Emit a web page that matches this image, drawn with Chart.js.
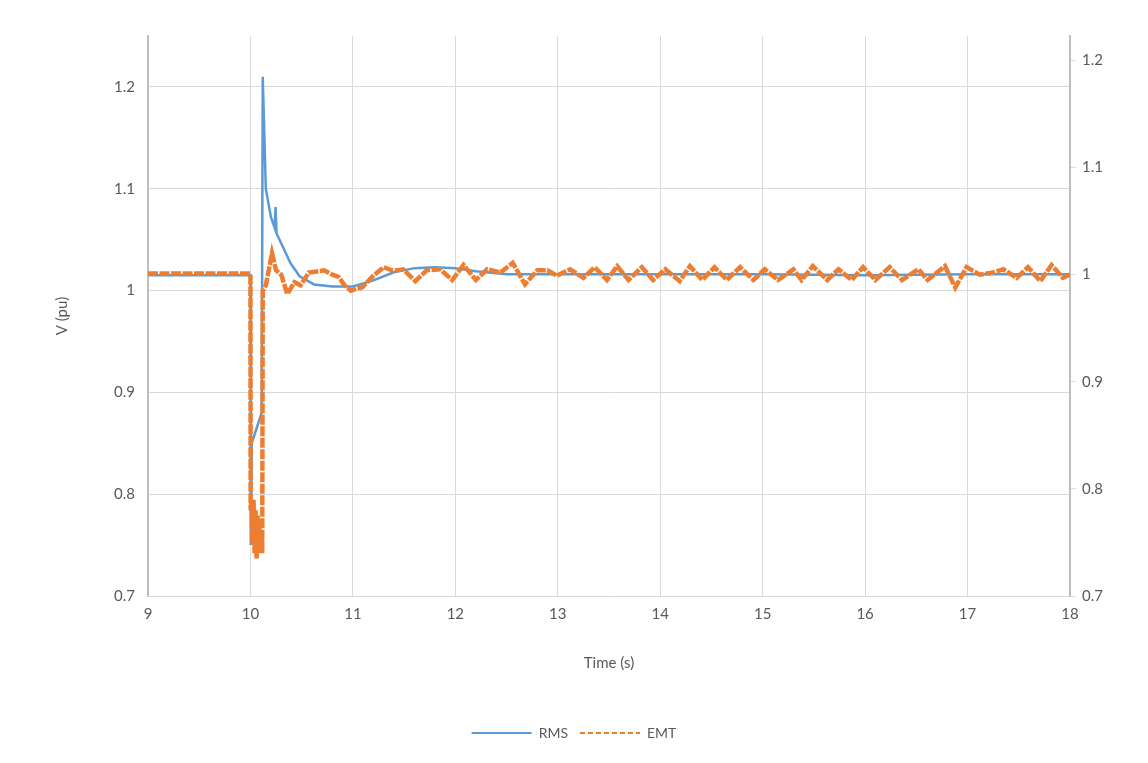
<!DOCTYPE html>
<html>
<head>
<meta charset="utf-8">
<script src="https://cdn.jsdelivr.net/npm/chart.js@4.4.1/dist/chart.umd.min.js"></script>
<style>
  body { margin: 0; background: #fff; }
  #wrap { width: 1148px; height: 763px; }
</style>
</head>
<body>
<div id="wrap"><canvas id="myChart" width="1148" height="763"></canvas></div>
<script>
// time axis ticks and the two voltage axes
var xTicks = [9, 10, 11, 12, 13, 14, 15, 16, 17, 18];
var leftTicks = [0.7, 0.8, 0.9, 1.0, 1.1, 1.2];
var rightTicks = [0.7, 0.8, 0.9, 1.0, 1.1, 1.2];

// RMS simulation (primary axis)
var rmsTime = [9, 10.0, 10.003, 10.012, 10.11, 10.12, 10.15, 10.2, 10.235, 10.245, 10.255,
  10.33, 10.39, 10.48, 10.62, 10.8, 11.0, 11.2, 11.4, 11.6, 11.8, 12.0, 12.2, 12.5, 13, 14, 15, 16, 17, 18];
var rmsV = [1.015, 1.015, 0.75, 0.85, 0.88, 1.21, 1.1, 1.072, 1.062, 1.082, 1.056,
  1.04, 1.027, 1.014, 1.006, 1.004, 1.004, 1.01, 1.018, 1.022, 1.023, 1.022, 1.019, 1.016, 1.016, 1.016, 1.016, 1.015, 1.016, 1.016];

// EMT simulation (secondary axis)
var emtTime = [9, 10.0, 10.002, 10.01, 10.02, 10.03, 10.04, 10.05, 10.06, 10.07, 10.08, 10.09, 10.1, 10.11, 10.115, 10.12,
  10.15, 10.21, 10.25, 10.3, 10.36, 10.43, 10.49, 10.57, 10.65, 10.72, 10.8, 10.86, 10.92, 10.98, 11.04, 11.09,
  11.2, 11.3, 11.38, 11.43, 11.49, 11.61, 11.72, 11.85, 11.97, 12.08, 12.2, 12.31, 12.44, 12.56, 12.68, 12.8,
  12.9, 12.99, 13.12, 13.25, 13.36, 13.48, 13.58, 13.69, 13.82, 13.93, 14.05, 14.19, 14.29, 14.41, 14.53, 14.65,
  14.78, 14.91, 15.02, 15.15, 15.3, 15.38, 15.49, 15.63, 15.74, 15.87, 15.98, 16.1, 16.24, 16.36, 16.52, 16.61,
  16.78, 16.88, 16.99, 17.12, 17.25, 17.35, 17.48, 17.59, 17.71, 17.82, 17.93, 18.0];
var emtV = [1.001, 1.001, 0.78, 0.79, 0.75, 0.79, 0.74, 0.78, 0.735, 0.775, 0.74, 0.77, 0.745, 0.76, 0.74, 0.985,
  0.99, 1.02, 1.004, 1.0, 0.982, 0.993, 0.99, 1.002, 1.003, 1.004, 1.0, 0.998, 0.99, 0.985, 0.987, 0.988,
  0.999, 1.007, 1.004, 1.004, 1.005, 0.994, 1.004, 1.005, 0.995, 1.009, 0.995, 1.005, 1.002, 1.011, 0.991, 1.004,
  1.004, 0.999, 1.005, 0.997, 1.007, 0.995, 1.008, 0.995, 1.007, 0.995, 1.005, 0.994, 1.008, 0.995, 1.007, 0.995,
  1.007, 0.995, 1.005, 0.995, 1.005, 0.995, 1.008, 0.995, 1.005, 0.995, 1.007, 0.995, 1.007, 0.995, 1.005, 0.995,
  1.008, 0.988, 1.007, 1.0, 1.002, 1.005, 0.997, 1.007, 0.994, 1.009, 0.997, 1.0];

function toPoints(xs, ys) {
  return xs.map(function (x, i) { return { x: x, y: ys[i] }; });
}
function fmt(v) { return String(Number(v.toFixed(2))); }

var textColor = '#595959';
var gridColor = '#d9d9d9';
var axisColor = '#bfbfbf';
var font = { family: 'Lato, "Liberation Sans", sans-serif', size: 15 };

var ctx = document.getElementById('myChart').getContext('2d');
var myChart = new Chart(ctx, {
  type: 'line',
  data: {
    datasets: [{
      label: 'RMS',
      data: toPoints(rmsTime, rmsV),
      yAxisID: 'y',
      order: 2,
      borderColor: '#5b9bd5',
      backgroundColor: '#5b9bd5',
      borderWidth: 2.5,
      pointRadius: 0,
      tension: 0
    }, {
      label: 'EMT',
      data: toPoints(emtTime, emtV),
      yAxisID: 'y2',
      order: 1,
      borderColor: '#ed7d31',
      backgroundColor: '#ed7d31',
      borderWidth: 4.5,
      borderDash: [10, 1.5],
      pointRadius: 0,
      tension: 0
    }]
  },
  options: {
    responsive: false,
    maintainAspectRatio: false,
    animation: false,
    devicePixelRatio: 1,
    layout: { padding: { top: 36, left: 0, right: 0, bottom: 13 } },
    plugins: {
      tooltip: { enabled: false },
      legend: {
        position: 'bottom',
        labels: {
          color: textColor,
          font: { family: font.family, size: 14 },
          usePointStyle: true,
          pointStyle: 'line',
          pointStyleWidth: 60,
          padding: 12,
          sort: function (a, b) { return a.datasetIndex - b.datasetIndex; },
          generateLabels: function (chart) {
            var items = Chart.defaults.plugins.legend.labels.generateLabels(chart);
            items.forEach(function (it) {
              it.lineWidth = 2;
              it.lineDash = it.text === 'EMT' ? [5, 3] : [];
            });
            return items;
          }
        }
      }
    },
    scales: {
      x: {
        type: 'linear',
        min: 9,
        max: 18,
        afterFit: function (s) { s.height = 118; },
        afterBuildTicks: function (s) { s.ticks = xTicks.map(function (v) { return { value: v }; }); },
        ticks: { color: textColor, font: font, padding: 9, maxRotation: 0 },
        grid: { color: gridColor, drawTicks: false },
        border: { color: gridColor },
        title: { display: true, text: 'Time (s)', color: textColor, font: font, padding: { top: 0, bottom: 42 } }
      },
      y: {
        position: 'left',
        min: 0.7,
        max: 1.25,
        afterFit: function (s) { s.width = 148; },
        afterBuildTicks: function (s) { s.ticks = leftTicks.map(function (v) { return { value: v }; }); },
        ticks: { color: textColor, font: font, padding: 13, callback: function (v) { return fmt(v); } },
        grid: { color: gridColor, drawTicks: false },
        border: { color: axisColor, width: 2 },
        title: { display: true, text: 'V (pu)', color: textColor, font: font, padding: { top: 53, bottom: 0 } }
      },
      y2: {
        position: 'right',
        min: 0.7,
        max: 1.2228,
        afterFit: function (s) { s.width = 78; },
        afterBuildTicks: function (s) { s.ticks = rightTicks.map(function (v) { return { value: v }; }); },
        ticks: { color: textColor, font: font, padding: 6, callback: function (v) { return fmt(v); } },
        grid: { drawOnChartArea: false, color: gridColor, tickLength: 6 },
        border: { color: axisColor, width: 2 }
      }
    }
  }
});
</script>
</body>
</html>
